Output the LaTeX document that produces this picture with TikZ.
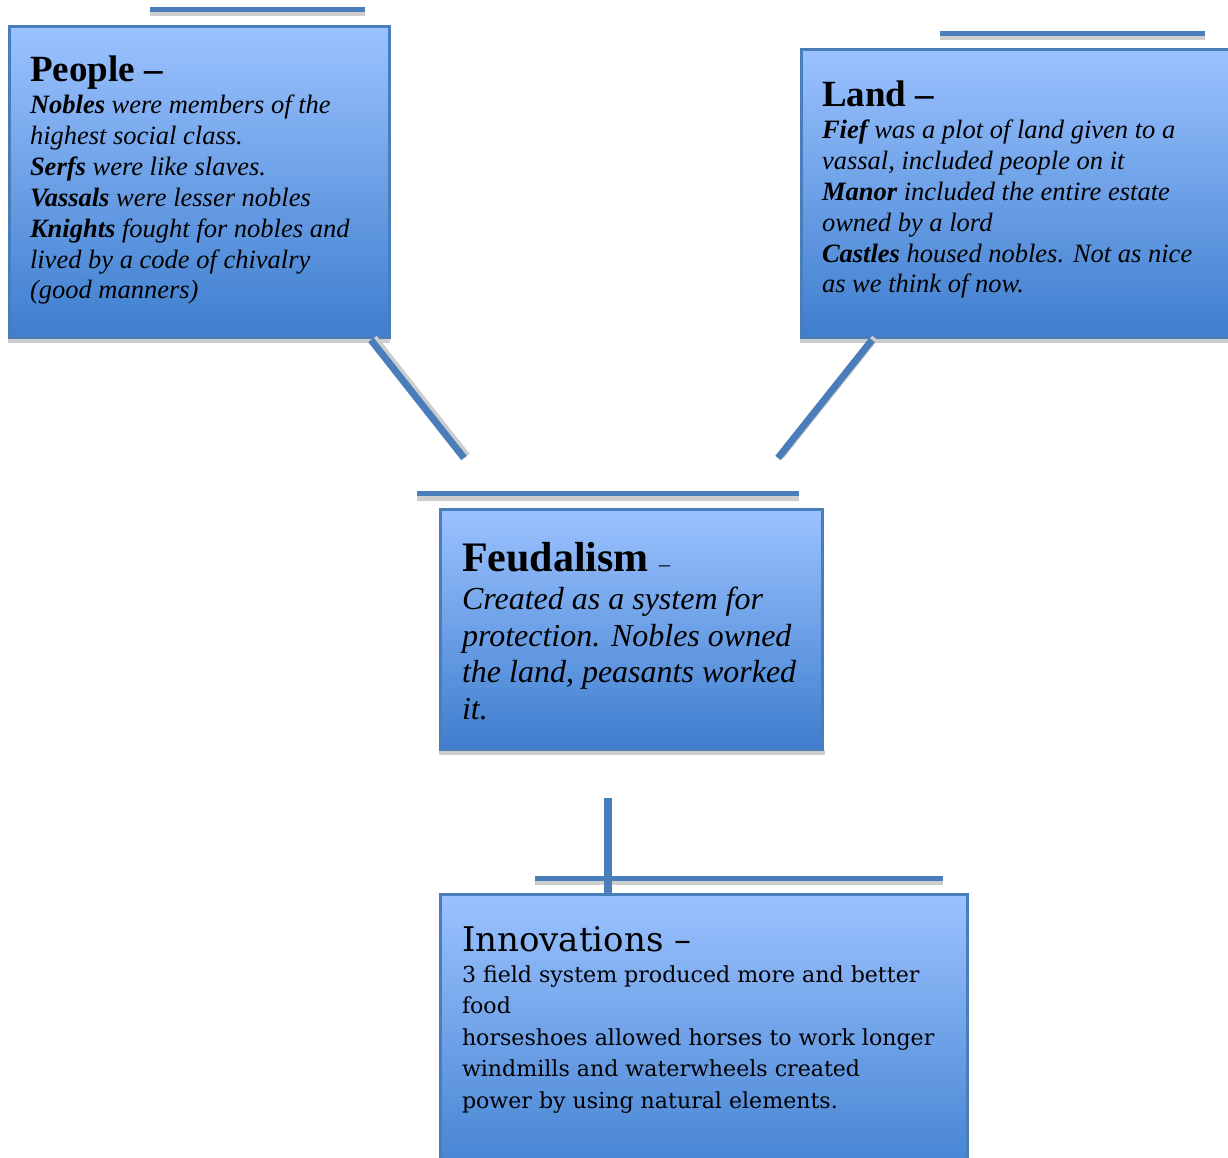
\documentclass[tikz,border=0pt]{standalone}
\usepackage{fontspec}
\setmainfont{Liberation Serif}
\newfontfamily\innofont{DejaVu Serif}
\definecolor{boxtop}{RGB}{155,194,255}
\definecolor{boxbot}{RGB}{62,126,206}
\definecolor{boxedge}{RGB}{74,126,187}
\definecolor{linecol}{RGB}{74,126,187}
\definecolor{shadegray}{RGB}{205,205,205}
\tikzset{
  cbox/.style={draw=boxedge, line width=3pt, top color=boxtop, bottom color=boxbot,
    anchor=north west, inner sep=0pt, outer sep=0pt},
  conn/.style={draw=linecol, line width=7pt},
  connshadow/.style={draw=shadegray, line width=7pt},
  txt/.style={anchor=base west, inner sep=0pt, outer sep=0pt}
}
\begin{document}
\begin{tikzpicture}[x=1pt,y=-1pt]
\clip (0,0) rectangle (1228,1157);
\fill[white] (0,0) rectangle (1228,1157);

% decorative bars
\fill[shadegray] (150,12) rectangle (365,16);
\fill[linecol] (150,7) rectangle (365,12);
\fill[shadegray] (940,36) rectangle (1205,40);
\fill[linecol] (940,31) rectangle (1205,36);
\fill[shadegray] (417,496) rectangle (799,501);
\fill[linecol] (417,491) rectangle (799,496);
\fill[shadegray] (535,881) rectangle (943,885);
\fill[linecol] (535,876) rectangle (943,881);

% box shadows
\fill[shadegray] (8,338) rectangle (390,343);
\fill[shadegray] (800,338) rectangle (1228,343);
\fill[shadegray] (439,750) rectangle (825,755);

% boxes
\node[cbox, minimum width=380pt, minimum height=311pt] (people) at (9.5,26.5) {};
\node[cbox, minimum width=430pt, minimum height=288pt] (land) at (801.5,49.5) {};
\node[cbox, minimum width=382pt, minimum height=240pt] (feud) at (440.5,509.5) {};
\node[cbox, minimum width=527pt, minimum height=300pt] (innov) at (440.5,894.5) {};

% connectors
\coordinate (peoplefoot) at (371,340);
\coordinate (feudleft) at (464,458);
\coordinate (landfoot) at (872,340);
\coordinate (feudright) at (778,458);
\coordinate (feudfoot) at (608,798);
\draw[connshadow] ([xshift=3pt,yshift=2pt]peoplefoot) -- ([xshift=3pt,yshift=2pt]feudleft);
\draw[connshadow] ([xshift=3pt,yshift=2pt]landfoot) -- ([xshift=3pt,yshift=2pt]feudright);
\draw[conn] (peoplefoot) -- (feudleft);
\draw[conn] (landfoot) -- (feudright);
\draw[conn, line width=8pt] (feudfoot) -- (feudfoot |- innov.north);

% texts
\node[txt] (peopletext) at (30,81) {\parbox[t]{400pt}{\raggedright
  \fontsize{37}{44}\selectfont\bfseries People –\par\vspace{2pt}
  \fontsize{26.5}{30.85}\selectfont\mdseries\itshape
  {\bfseries Nobles} were members of the\\
  highest social class.\\
  {\bfseries Serfs} were like slaves.\\
  {\bfseries Vassals} were lesser nobles\\
  {\bfseries Knights} fought for nobles and\\
  lived by a code of chivalry\\
  (good manners)}};

\node[txt] (landtext) at (822,106) {\parbox[t]{420pt}{\raggedright
  \fontsize{37}{44}\selectfont\bfseries Land –\par\vspace{2pt}
  \fontsize{26.5}{30.8}\selectfont\mdseries\itshape
  {\bfseries Fief} was a plot of land given to a\\
  vassal, included people on it\\
  {\bfseries Manor} included the entire estate\\
  owned by a lord\\
  {\bfseries Castles} housed nobles. Not as nice\\
  as we think of now.}};

\node[txt] (feudtext) at (462,571) {\parbox[t]{420pt}{\raggedright
  \fontsize{42}{48}\selectfont{\bfseries Feudalism} {\fontsize{22}{24}\selectfont –}\par\vspace{2pt}
  \fontsize{32}{36.6}\selectfont\itshape
  Created as a system for\\
  protection. Nobles owned\\
  the land, peasants worked\\
  it.}};

\node[txt] (innovtext) at (462,951) {\parbox[t]{520pt}{\raggedright\innofont
  \fontsize{34}{40}\selectfont Innovations –\par
  \fontsize{22.1}{31.4}\selectfont
  3 field system produced more and better\\
  food\\
  horseshoes allowed horses to work longer\\
  windmills and waterwheels created\\
  power by using natural elements.}};
\end{tikzpicture}
\end{document}
